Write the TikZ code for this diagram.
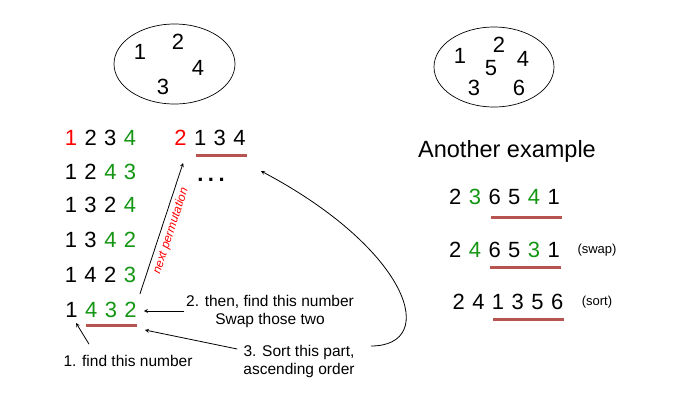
\documentclass[tikz,border=0pt]{standalone}
\usepackage{fontspec}
\setmainfont{Liberation Sans}
\usetikzlibrary{shapes.geometric}

\definecolor{permred}{RGB}{255,0,0}
\definecolor{permgreen}{RGB}{20,150,20}
\definecolor{ulred}{RGB}{184,84,80}
\newcommand{\rd}[1]{\textcolor{permred}{#1}}
\newcommand{\gr}[1]{\textcolor{permgreen}{#1}}
\newcommand{\digitfont}{\fontsize{22}{26}\selectfont\spaceskip=7.5pt plus 0pt minus 0pt\relax}

\begin{document}
\begin{tikzpicture}[>=stealth, x=1pt, y=-1pt,
  digits/.style={font=\digitfont, inner sep=0pt},
  note/.style={font=\fontsize{15.5}{18}\selectfont, align=center, inner sep=2pt},
  small/.style={font=\fontsize{13}{15}\selectfont, inner sep=0pt},
  uline/.style={draw=ulred, line width=3pt},
  conn/.style={->, line width=0.8pt}]
\useasboundingbox (0,0) rectangle (690,413);

% the two sets
\node[draw, ellipse, minimum width=121pt, minimum height=80pt, line width=0.7pt] (bag) at (174.5,64) {};
\node[digits] (b1) at (140,52) {1};
\node[digits] (b2) at (178,42) {2};
\node[digits] (b4) at (198,68) {4};
\node[digits] (b3) at (163,87) {3};

\node[draw, ellipse, minimum width=120pt, minimum height=80pt, line width=0.7pt] (bag2) at (494,67) {};
\node[digits] (c1) at (460,56) {1};
\node[digits] (c2) at (499,45) {2};
\node[digits] (c4) at (523,59) {4};
\node[digits] (c5) at (491,68) {5};
\node[digits] (c3) at (474,88) {3};
\node[digits] (c6) at (519,88) {6};

% permutations of 1..4
\node[digits] (r1) at (100.5,138) {\rd{1} 2 3 \gr{4}};
\node[digits] (r2) at (100.5,172) {1 2 \gr{4} \gr{3}};
\node[digits] (r3) at (100.5,205) {1 3 2 \gr{4}};
\node[digits] (r4) at (100.5,240) {1 3 \gr{4} \gr{2}};
\node[digits] (r5) at (100.5,275) {1 4 2 \gr{3}};
\node[digits] (r6) at (101,310) {1 \gr{4} \gr{3} \gr{2}};
\node[digits] (r7) at (210,138) {\rd{2} 1 3 4};
\node[font=\fontsize{22}{26}\selectfont\bfseries, inner sep=0pt] (dots) at (211,180) {.\hspace{4.5pt}.\hspace{4.5pt}.};

\draw[uline] (196,155) -- (247,155);
\draw[uline] (86,325) -- (137,325);

\node[note] (find) at (128,361) {1. find this number};
\node[note] (swap) at (270,311) {2. then, find this number\\Swap those two};
\node[note] (sort) at (299,361) {3. Sort this part,\\ascending order};
\node[rotate=71.7, text=permred, inner sep=0pt, font=\fontsize{12}{14}\selectfont\itshape] (perm) at (171,231) {next permutation};

\draw[conn] ([xshift=3pt,yshift=8pt]r6.north east) -- ([xshift=9pt,yshift=-17pt]r7.south west);
\draw[conn] (swap.west) -- ([xshift=7pt]swap.west -| r6.east);
\draw[conn] ([xshift=-4pt,yshift=12pt]sort.west) -- ([xshift=8pt,yshift=-12pt]r6.south east);
\draw[conn] ([xshift=-39pt,yshift=9pt]find.north) -- ([xshift=11pt,yshift=-5pt]r6.south west);
\draw[conn] ([xshift=14pt,yshift=15pt]sort.east) .. controls (440,346) and (410,250) .. ([xshift=15pt,yshift=-25pt]r7.south east);

% second example
\node[font=\fontsize{23.5}{27}\selectfont] (other) at (507,151) {Another example};
\node[digits] (a1) at (504.5,197) {2 \gr{3} 6 5 \gr{4} 1};
\node[digits] (a2) at (504.5,250) {2 \gr{4} 6 5 \gr{3} 1};
\node[digits] (a3) at (508,302) {2 4 1 3 5 6};
\node[small] (swaptag) at (597,250) {(swap)};
\node[small] (sorttag) at (597,302) {(sort)};

\draw[uline] (491,217) -- (562,217);
\draw[uline] (490,267) -- (561,267);
\draw[uline] (493,319) -- (564,319);
\end{tikzpicture}
\end{document}
